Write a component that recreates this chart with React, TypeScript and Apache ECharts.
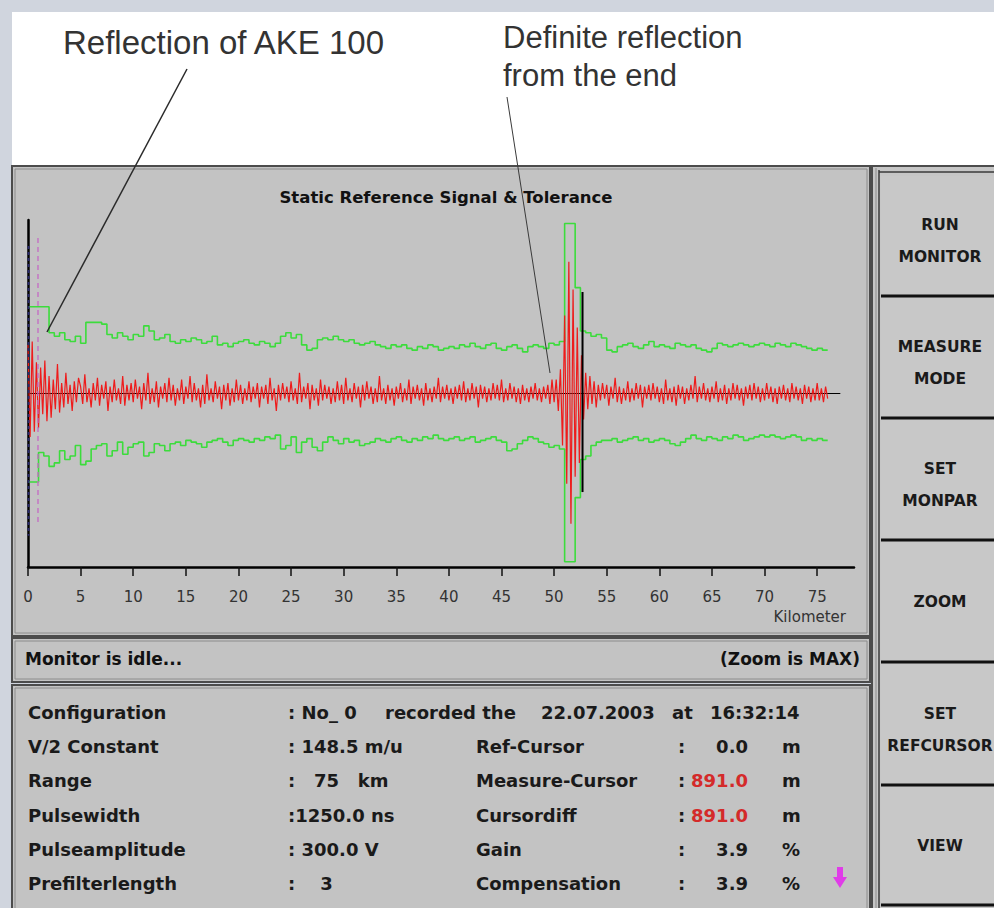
import React, { useEffect, useRef } from "react";
import * as echarts from "echarts";

// ---- data ----
const signalStepKm = 0.2;
const signal = [
  28, -25, 30, -22, 18, -20, 15, -12, 19, -16, 10, -14, 8, -9, 17, -11, 6, -8, 12, -6, 5, -10, 7, -5, 9,
  4, -6, 11, -5, 3, -8, 6, -4, 9, -7, 5, -3, 7, -10, 4, -5, 8, -4, 3, -6, 10, -7, 5, -4, 6,
  -5, 8, -3, 4, -9, 6, -4, 12, -6, 3, -5, 7, -8, 4, -3, 6, -5, 9, -4, 5, -7, 3, -4, 8, -6,
  4, -3, 10, -5, 6, -4, 3, -8, 5, -6, 11, -4, 3, -5, 7, -3, 4, -9, 5, -4, 6, -7, 3, -5, 8,
  -4, 5, -6, 3, -4, 7, -5, 4, -3, 6, -8, 4, -3, 5, -6, 9, -4, 3, -10, 5, -4, 6, -3, 4, -5,
  7, -4, 3, -6, 12, -5, 4, -3, 6, -9, 5, -4, 3, -7, 8, -4, 5, -3, 4, -6, 3, -5, 7, -4, 5,
  -6, 9, -4, 3, -5, 6, -3, 4, -8, 5, -4, 7, -3, 4, -6, 3, -5, 10, -4, 3, -6, 5, -4, 3, -7,
  4, -3, 6, -5, 3, -4, 8, -6, 4, -3, 5, -4, 3, -7, 6, -4, 3, -5, 4, -3, 9, -5, 4, -3, 5,
  -4, 3, -6, 4, -3, 5, -4, 7, -5, 3, -4, 6, -3, 4, -8, 5, -3, 4, -5, 3, -4, 6, -3, 5, -4,
  8, -5, 3, -4, 6, -3, 4, -5, 3, -6, 5, -4, 3, -5, 4, -3, 6, -4, 3, -5, 4, -3, 5, -6, 8,
  -5, 8, -10, 14, -30, 45, -52, 76, -75, 60, -48, 38, -40, 22, -15, 12, -9, 10, -6, 7, -8, 5, -4, 6, -3,
  5, -7, 4, -3, 9, -5, 4, -6, 3, -4, 7, -5, 3, -4, 6, -3, 5, -8, 4, -3, 5, -4, 6, -3, 4,
  -5, 3, -6, 8, -4, 3, -5, 4, -7, 5, -3, 4, -6, 3, -4, 5, -3, 10, -5, 4, -3, 6, -4, 3, -5,
  4, -3, 7, -5, 3, -4, 5, -6, 3, -4, 6, -3, 5, -4, 3, -7, 4, -3, 5, -4, 6, -3, 4, -5, 3,
  -4, 6, -3, 4, -5, 3, -6, 4, -3, 5, -4, 3, -5, 6, -3, 4, -4, 3, -6, 5, -3, 4, -5, 3, -4,
  6, -4, 3, -5, 4, -3,
];

const toleranceStepKm = 0.5;
const toleranceUpper = [
  50, 50, 50, 50, 35, 33, 35, 31, 30, 33,
  29, 41, 41, 41, 40, 34, 32, 35, 33, 31,
  34, 33, 39, 36, 31, 32, 34, 30, 29, 31,
  30, 32, 31, 29, 30, 33, 28, 29, 27, 29,
  30, 31, 29, 28, 30, 29, 27, 29, 33, 35,
  32, 34, 28, 25, 26, 31, 32, 31, 33, 31,
  30, 31, 29, 28, 29, 30, 28, 27, 26, 28,
  27, 28, 26, 25, 27, 26, 28, 27, 25, 26,
  27, 26, 28, 27, 29, 27, 26, 28, 29, 26,
  25, 27, 28, 26, 24, 27, 28, 27, 26, 29,
  28, 30, 98, 98, 61, 36, 35, 33, 34, 32,
  25, 24, 27, 28, 29, 27, 26, 28, 30, 27,
  28, 27, 26, 29, 28, 27, 28, 26, 25, 24,
  26, 29, 28, 27, 28, 29, 28, 27, 28, 29,
  28, 27, 29, 28, 27, 29, 28, 27, 26, 25,
  26, 25, 25,
];
const toleranceLower = [
  -51, -51, -34, -36, -42, -40, -33, -38, -36, -30,
  -41, -39, -32, -30, -29, -36, -33, -28, -35, -31,
  -29, -28, -36, -34, -29, -30, -33, -29, -28, -30,
  -27, -28, -29, -31, -28, -27, -26, -28, -30, -27,
  -26, -27, -28, -26, -27, -25, -26, -24, -32, -30,
  -25, -34, -28, -26, -31, -33, -28, -25, -27, -29,
  -26, -28, -27, -30, -29, -28, -26, -27, -28, -26,
  -25, -27, -28, -26, -27, -25, -26, -24, -26, -27,
  -26, -25, -27, -26, -25, -28, -27, -26, -25, -27,
  -28, -33, -32, -29, -27, -25, -26, -28, -29, -31,
  -30, -32, -97, -97, -60, -38, -36, -30, -28, -27,
  -27, -26, -28, -27, -26, -25, -27, -26, -28, -27,
  -26, -27, -29, -30, -28, -26, -24, -26, -27, -25,
  -26, -27, -25, -26, -24, -25, -27, -26, -25, -24,
  -25, -24, -25, -26, -25, -24, -25, -27, -26, -27,
  -26, -27, -27,
];

const xTicks = [0, 5, 10, 15, 20, 25, 30, 35, 40, 45, 50, 55, 60, 65, 70, 75];
const baselineEndKm = 77.2;
const refCursorKm = 0.05;
const refCursorSpan = [85, -82];
const markerKm = 0.95;
const markerSpan = [89.6, -74.6];
const measureCursorKm = 52.7;
const measureCursorSpan = [58.5, -56.8];

const leftLabels = ["Configuration", "V/2 Constant", "Range", "Pulsewidth", "Pulseamplitude", "Prefilterlength"];
const leftValues = [": No_ 0", ": 148.5 m/u", ":   75   km", ":1250.0 ns", ": 300.0 V", ":    3"];
const rightLabels = ["Ref-Cursor", "Measure-Cursor", "Cursordiff", "Gain", "Compensation"];
const rightValues = ["0.0", "891.0", "891.0", "3.9", "3.9"];
const rightUnits = ["m", "m", "m", "%", "%"];
const rightValueRed = [false, true, true, false, false];
const buttons = [["RUN", "MONITOR"], ["MEASURE", "MODE"], ["SET", "MONPAR"], ["ZOOM"], ["SET", "REFCURSOR"], ["VIEW"]];

const UI_FONT = '"DejaVu Sans", "Noto Sans", sans-serif';
const ANN_FONT = '"Liberation Sans", Arial, sans-serif';

function buildGraphics() {
  const g: any[] = [];
  const Z_BG = -20;
  const rect = (x: number, y: number, w: number, h: number, style: any, z = Z_BG) =>
    g.push({ type: "rect", shape: { x, y, width: w, height: h }, style, z, silent: true });
  const line = (x1: number, y1: number, x2: number, y2: number, stroke: string, lw: number, z = Z_BG + 1) =>
    g.push({ type: "line", shape: { x1, y1, x2, y2 }, style: { stroke, lineWidth: lw }, z, silent: true });
  const text = (x: number, y: number, t: string, font: string, fill = "#111", align = "left", z = 50) =>
    g.push({ type: "text", x, y, z, silent: true, style: { text: t, font, fill, textAlign: align, textVerticalAlign: "middle" } });

  // page background and white annotation area
  rect(0, 0, 994, 908, { fill: "#d0d5de" }, Z_BG - 5);
  rect(12, 12, 982, 156, { fill: "#ffffff" }, Z_BG - 4);

  // chart panel
  rect(12, 166, 858, 470, { fill: "#c3c3c3", stroke: "#4c4c4c", lineWidth: 2 });
  rect(15, 169, 852, 464, { fill: "none", stroke: "#8c8c8c", lineWidth: 1 });
  // status bar
  rect(12, 638, 858, 44, { fill: "#c3c3c3", stroke: "#4c4c4c", lineWidth: 2 });
  rect(15, 641, 852, 38, { fill: "none", stroke: "#8c8c8c", lineWidth: 1 });
  // info panel
  rect(12, 685, 858, 240, { fill: "#c3c3c3", stroke: "#4c4c4c", lineWidth: 2 });
  rect(15, 688, 852, 240, { fill: "none", stroke: "#8c8c8c", lineWidth: 1 });

  // right-hand column frame
  rect(872, 166, 130, 760, { fill: "#c6c6c6", stroke: "#4c4c4c", lineWidth: 2 });
  line(876, 168, 876, 908, "#8c8c8c", 1);
  line(879, 170, 879, 908, "#3a3a3a", 1.5);
  line(879, 172, 994, 172, "#3a3a3a", 1.5);
  const sepY = [296, 418, 540, 662, 785, 905];
  const tops = [174, 296, 418, 540, 662, 785];
  const btnFont = "bold 15.5px " + UI_FONT;
  buttons.forEach((lines, i) => {
    const top = tops[i];
    const bottom = sepY[i];
    rect(881, top + 2, 120, bottom - top - 3, { fill: "#c8c8c8" });
    line(881, bottom, 994, bottom, "#111111", 3, Z_BG + 2);
    const cy = (top + bottom) / 2;
    if (lines.length === 1) {
      text(940, cy + 1, lines[0], btnFont, "#1a1a1a", "center");
    } else {
      text(940, cy - 10, lines[0], btnFont, "#1a1a1a", "center");
      text(940, cy + 22, lines[1], btnFont, "#1a1a1a", "center");
    }
  });

  // chart texts
  text(446, 197, "Static Reference Signal & Tolerance", "bold 16.5px " + UI_FONT, "#111", "center");
  text(846, 617, "Kilometer", "15px " + UI_FONT, "#333", "right");

  // status bar
  text(25, 659, "Monitor is idle...", "bold 17px " + UI_FONT, "#111");
  text(860, 659, "(Zoom is MAX)", "bold 17px " + UI_FONT, "#111", "right");

  // info rows
  const rowY = [712, 746, 780, 815, 849, 883];
  const infoFont = "bold 18px " + UI_FONT;
  leftLabels.forEach((l, i) => text(28, rowY[i], l, infoFont, "#1a1a1a"));
  leftValues.forEach((v, i) => text(288, rowY[i], v, infoFont, "#1a1a1a"));
  text(385, rowY[0], "recorded the", infoFont, "#1a1a1a");
  text(541, rowY[0], "22.07.2003", infoFont, "#1a1a1a");
  text(672, rowY[0], "at", infoFont, "#1a1a1a");
  text(710, rowY[0], "16:32:14", infoFont, "#1a1a1a");
  rightLabels.forEach((l, i) => {
    const y = rowY[i + 1];
    text(476, y, l, infoFont, "#1a1a1a");
    text(678, y, ":", infoFont, "#1a1a1a");
    text(748, y, rightValues[i], infoFont, rightValueRed[i] ? "#d42a2a" : "#1a1a1a", "right");
    text(782, y, rightUnits[i], infoFont, "#1a1a1a");
  });
  // magenta arrow
  g.push({
    type: "polygon",
    z: 50,
    silent: true,
    shape: { points: [[837, 867], [843, 867], [843, 877], [847, 877], [840, 888], [833, 877], [837, 877]] },
    style: { fill: "#e03ce8" },
  });

  // annotations
  text(63, 42, "Reflection of AKE 100", "33px " + ANN_FONT, "#333", "left");
  text(503, 37, "Definite reflection", "31px " + ANN_FONT, "#333", "left");
  text(503, 75, "from the end", "31px " + ANN_FONT, "#333", "left");
  line(187, 69, 47, 332, "#2a2a2a", 1.5, 60);
  line(507, 97, 550, 373, "#3a3a3a", 1, 60);
  return g;
}

export default function App() {
  const ref = useRef<HTMLDivElement>(null);
  useEffect(() => {
    if (!ref.current) return;
    const chart = echarts.init(ref.current, null, { renderer: "svg" });
    const sigData = signal.map((v, i) => [+(i * signalStepKm).toFixed(2), v]);
    const upData = toleranceUpper.map((v, i) => [+(i * toleranceStepKm).toFixed(2), v]);
    const loData = toleranceLower.map((v, i) => [+(i * toleranceStepKm).toFixed(2), v]);
    const seg = (km: number, span: number[]) => [[km, span[0]], [km, span[1]]];
    const option: any = {
      animation: false,
      backgroundColor: "transparent",
      grid: { left: 28, right: 140, top: 220, bottom: 341, containLabel: false },
      xAxis: {
        type: "value",
        min: 0,
        max: 78.5,
        interval: 5,
        axisLine: { show: true, onZero: false, lineStyle: { color: "#000", width: 2.5 } },
        axisTick: { show: true, length: 9, lineStyle: { color: "#111", width: 1.5 } },
        axisLabel: {
          show: true,
          margin: 22,
          color: "#333",
          fontFamily: "DejaVu Sans",
          fontSize: 15,
          showMaxLabel: false,
          formatter: (v: number) => (xTicks.includes(v) ? String(v) : ""),
        },
        splitLine: { show: false },
      },
      yAxis: {
        type: "value",
        min: -100,
        max: 100,
        axisLine: { show: true, onZero: false, lineStyle: { color: "#000", width: 2.5 } },
        axisTick: { show: false },
        axisLabel: { show: false },
        splitLine: { show: false },
      },
      series: [
        {
          type: "line",
          data: [[0, 0], [baselineEndKm, 0]],
          showSymbol: false,
          lineStyle: { color: "#000", width: 1.2 },
          z: 1,
          silent: true,
        },
        {
          type: "line",
          data: upData,
          step: "end",
          showSymbol: false,
          lineStyle: { color: "#3cdc3c", width: 1.6 },
          z: 3,
          silent: true,
        },
        {
          type: "line",
          data: loData,
          step: "end",
          showSymbol: false,
          lineStyle: { color: "#3cdc3c", width: 1.6 },
          z: 3,
          silent: true,
        },
        {
          type: "line",
          data: sigData,
          showSymbol: false,
          lineStyle: { color: "#ee1b1b", width: 1.2 },
          z: 4,
          silent: true,
        },
        {
          type: "line",
          data: seg(markerKm, markerSpan),
          showSymbol: false,
          lineStyle: { color: "#c46ac4", width: 1.3, type: [5, 4] },
          z: 5,
          silent: true,
        },
        {
          type: "line",
          data: seg(refCursorKm, refCursorSpan),
          showSymbol: false,
          lineStyle: { color: "#2a2a6a", width: 2, type: [3, 3] },
          z: 6,
          silent: true,
        },
        {
          type: "line",
          data: seg(measureCursorKm, measureCursorSpan),
          showSymbol: false,
          lineStyle: { color: "#000", width: 2 },
          z: 6,
          silent: true,
        },
      ],
      graphic: { elements: buildGraphics() },
    };
    chart.setOption(option);
    return () => chart.dispose();
  }, []);
  return <div ref={ref} style={{ position: "absolute", left: 0, top: 0, width: 994, height: 908 }} />;
}
